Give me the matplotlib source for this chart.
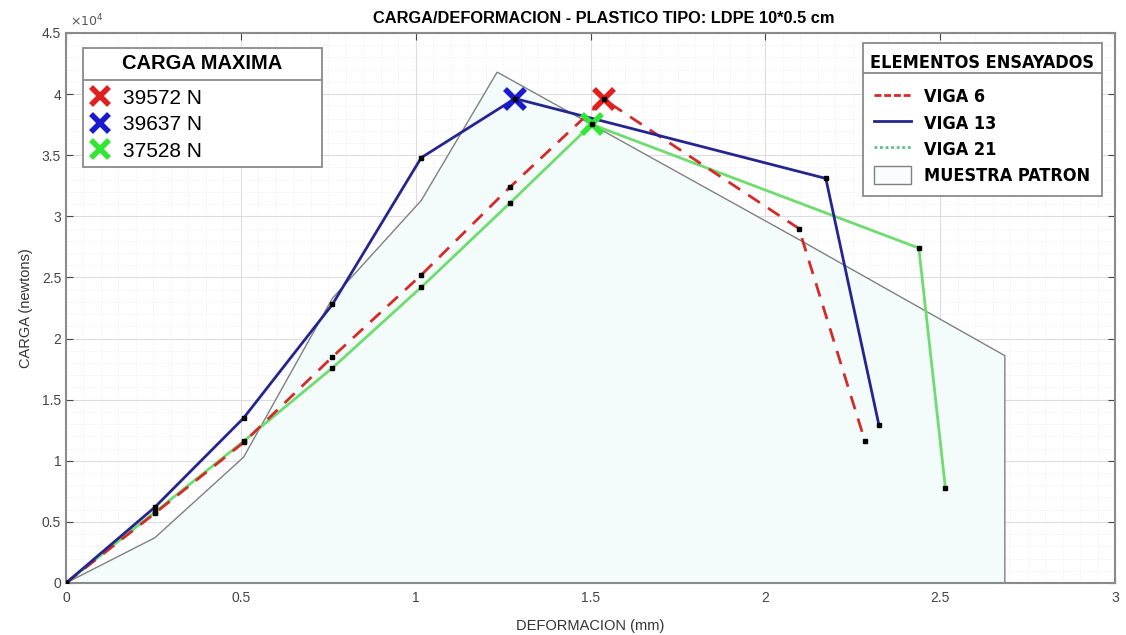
import matplotlib
matplotlib.use("Agg")
import matplotlib.pyplot as plt
from matplotlib.lines import Line2D
from matplotlib.patches import Patch
from matplotlib.ticker import MultipleLocator, FuncFormatter

# ---------------- data ----------------
viga6_x = [0, 0.254, 0.508, 0.762, 1.016, 1.270, 1.538, 2.096, 2.285]
viga6_y = [0, 5700, 11500, 18500, 25200, 32400, 39572, 29000, 11600]

viga13_x = [0, 0.254, 0.508, 0.762, 1.016, 1.284, 2.173, 2.325]
viga13_y = [0, 6200, 13500, 22800, 34800, 39637, 33100, 12900]

viga21_x = [0, 0.254, 0.508, 0.762, 1.016, 1.270, 1.503, 2.439, 2.515]
viga21_y = [0, 5800, 11600, 17600, 24200, 31100, 37528, 27400, 7750]

patron_x = [0, 0.254, 0.508, 0.762, 1.016, 1.233, 2.090, 2.685, 2.685]
patron_y = [0, 3700, 10300, 23300, 31300, 41800, 28200, 18600, 0]

max_labels = ["39572 N", "39637 N", "37528 N"]
series_labels = ["VIGA 6", "VIGA 13", "VIGA 21", "MUESTRA PATRON"]
x_ticks = [0, 0.5, 1, 1.5, 2, 2.5, 3]
y_ticks = [0, 5000, 10000, 15000, 20000, 25000, 30000, 35000, 40000, 45000]

RED = "#d42a2a"
BLUE = "#25258f"
GREEN = "#6fdc6f"
XRED = "#e01f1f"
XBLUE = "#1a1ad0"
XGREEN = "#33e633"

plt.rcParams['font.family'] = ['Liberation Sans', 'DejaVu Sans']

W_PX, H_PX = 1126, 635
fig = plt.figure(figsize=(W_PX / 100, H_PX / 100), dpi=100)
ax = fig.add_axes([66/W_PX, 1-583/H_PX, (1115-66)/W_PX, (583-33)/H_PX])

# patron polygon
ax.fill(patron_x, patron_y, facecolor="#f3fbfb", edgecolor="#808080", linewidth=1.0, zorder=2)

# series lines
ax.plot(viga6_x, viga6_y, color=RED, linestyle=(0, (5, 3.5)), linewidth=2.0, zorder=4)
ax.plot(viga13_x, viga13_y, color=BLUE, linestyle='-', linewidth=2.0, zorder=4)
ax.plot(viga21_x, viga21_y, color=GREEN, linestyle='-', linewidth=2.0, zorder=3)

# black point markers
for xs, ys in [(viga6_x, viga6_y), (viga13_x, viga13_y), (viga21_x, viga21_y)]:
    ax.plot(xs, ys, linestyle='none', marker='s', markersize=3.2, color='black', zorder=5)

# maxima
for xs, ys, c in [(viga6_x, viga6_y, XRED), (viga13_x, viga13_y, XBLUE), (viga21_x, viga21_y, XGREEN)]:
    i = ys.index(max(ys))
    ax.plot([xs[i]], [ys[i]], linestyle='none', marker='x', markersize=14,
            markeredgewidth=4, color=c, zorder=6)
    ax.plot([xs[i]], [ys[i]], linestyle='none', marker='s', markersize=3.2, color='black', zorder=7)

# axes styling
ax.set_xlim(0, 3)
ax.set_ylim(0, 45000)
ax.set_xticks(x_ticks)
ax.set_yticks(y_ticks)
ax.xaxis.set_minor_locator(MultipleLocator(0.05))
ax.yaxis.set_minor_locator(MultipleLocator(1000))
ax.xaxis.set_major_formatter(FuncFormatter(lambda v, p: f"{v:g}"))
ax.yaxis.set_major_formatter(FuncFormatter(lambda v, p: f"{v/1e4:g}"))
ax.tick_params(which='both', direction='in', top=True, right=True, colors='#444444',
               labelsize=10)
ax.tick_params(which='major', length=5)
ax.tick_params(axis='x', which='major', pad=6)
ax.tick_params(which='minor', length=0)
ax.grid(which='major', color='#dddddd', linewidth=0.8, zorder=0)
ax.grid(which='minor', color='#ececec', linewidth=0.6, linestyle=':', zorder=0)
ax.set_axisbelow(True)
for s in ax.spines.values():
    s.set_color('#8a8a8a')
    s.set_linewidth(1.5)

ax.set_xlabel("DEFORMACION (mm)", fontsize=10.5, color='#333333', labelpad=10)
ax.set_ylabel("CARGA (newtons)", fontsize=10.5, color='#333333', labelpad=6)
ax.set_title("CARGA/DEFORMACION - PLASTICO TIPO: LDPE 10*0.5 cm", fontsize=11.8,
             fontweight='bold', pad=7, x=(604-66)/(1115-66),
             family=['Liberation Sans', 'DejaVu Sans'])
ax.text(0.004, 1.006, r"$\times10^4$", transform=ax.transAxes, fontsize=9, color='#555555',
        ha='left', va='bottom')

H_SMALL = 0.002

# legend 1: maxima
h1 = [Line2D([], [], linestyle='none', marker='x', markersize=13, markeredgewidth=4, color=c)
      for c in (XRED, XBLUE, XGREEN)]
leg1 = ax.legend(h1, max_labels, loc='upper left',
                 bbox_to_anchor=(83/W_PX, 1-48/H_PX-H_SMALL, (322-83)/W_PX, H_SMALL),
                 bbox_transform=fig.transFigure, mode='expand', borderaxespad=0,
                 title="CARGA MAXIMA", title_fontproperties={'size': 14.5, 'weight': 'bold'},
                 prop={'size': 15}, fancybox=False, framealpha=1, edgecolor='#8a8a8a',
                 handlelength=1.0, handleheight=0.9, handletextpad=0.6, labelspacing=0.3,
                 borderpad=0.3)
leg1.get_frame().set_linewidth(1.3)
leg1.set_zorder(10)
leg1._legend_box.sep = 11
ax.add_artist(leg1)

# legend 2: series
h2 = [Line2D([], [], color=RED, linestyle=(0, (2.5, 1)), linewidth=2),
      Line2D([], [], color=BLUE, linestyle='-', linewidth=2),
      Line2D([], [], color="#5fbf8f", linestyle=(0, (1, 1)), linewidth=2),
      Patch(facecolor='#fafdfd', edgecolor='#808080', linewidth=1.0)]
cond = {'family': 'DejaVu Sans', 'stretch': 'condensed', 'weight': 'bold'}
leg2 = ax.legend(h2, series_labels, loc='upper left',
                 bbox_to_anchor=(863/W_PX, 1-43/H_PX-H_SMALL, (1102-863)/W_PX, H_SMALL),
                 bbox_transform=fig.transFigure, mode='expand', borderaxespad=0,
                 title="ELEMENTOS ENSAYADOS", title_fontproperties=dict(cond, size=13),
                 prop=dict(cond, size=13), fancybox=False, framealpha=1, edgecolor='#8a8a8a',
                 handlelength=2.05, handleheight=1.2, handletextpad=0.75, labelspacing=0.38,
                 borderpad=0.6)
leg2.get_frame().set_linewidth(1.3)
leg2.set_zorder(10)
leg2._legend_box.sep = 11

# separator lines under legend titles (fixed distance below frame top)
fig.canvas.draw()
r = fig.canvas.get_renderer()
W, H = fig.bbox.width, fig.bbox.height
for leg, off in ((leg1, 32), (leg2, 30)):
    fb = leg.get_frame().get_window_extent(r)
    y = fb.y1 - off
    fig.add_artist(Line2D([fb.x0 / W, fb.x1 / W], [y / H, y / H], transform=fig.transFigure,
                          color='#8a8a8a', linewidth=1.3, zorder=20))

fig.savefig("out.png", dpi=100)
